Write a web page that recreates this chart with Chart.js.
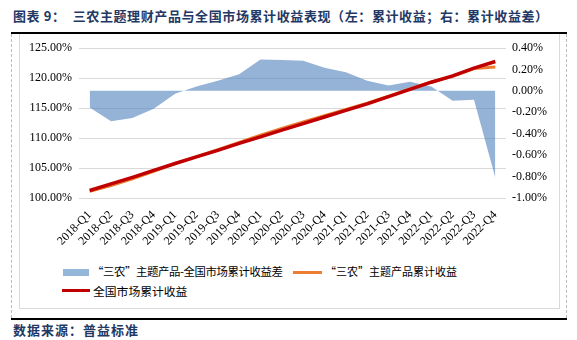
<!DOCTYPE html>
<html>
<head>
<meta charset="utf-8">
<script src="https://cdn.jsdelivr.net/npm/chart.js@4.4.1/dist/chart.umd.min.js"></script>
<style>
  body { margin: 0; width: 577px; height: 340px; background: #fff; position: relative; overflow: hidden; font-family: "Noto Sans CJK SC", sans-serif; }
  .title { position: absolute; left: 13px; top: 6px; font-size: 13px; font-weight: bold; color: #1f3864; white-space: nowrap; letter-spacing: 0.6px; }
  .rule { position: absolute; left: 11px; width: 556px; height: 2px; background: #000; }
  .dash { position: absolute; top: 34px; height: 284px; border-left: 1px dashed #bbb; }
  .box { position: absolute; left: 19px; top: 34px; width: 539px; height: 274px; border: 1px solid #d9d9d9; border-top: none; }
  .source { position: absolute; left: 13px; top: 320px; font-size: 13px; font-weight: bold; color: #1f3864; letter-spacing: 1px; }
  canvas { position: absolute; left: 0; top: 0; }
  .legend { position: absolute; font-size: 11.8px; color: #000; white-space: nowrap; }
  .sw { position: absolute; }
</style>
</head>
<body>
<div class="title">图表 9：&nbsp;&nbsp;三农主题理财产品与全国市场累计收益表现（左：累计收益；右：累计收益差）</div>
<div class="rule" style="top:32px"></div>
<div class="dash" style="left:11px"></div>
<div class="dash" style="left:566px"></div>
<div class="box"></div>
<canvas id="chart" width="577" height="262"></canvas>

<div class="sw" style="left:63px;top:269px;width:26px;height:7px;background:#95b7d9"></div>
<div class="legend" style="left:92px;top:263px;font-size:11.4px;letter-spacing:-0.4px">“三农”主题产品-全国市场累计收益差</div>
<div class="sw" style="left:293px;top:271px;width:29px;height:3px;background:#ed7d31"></div>
<div class="legend" style="left:325px;top:263px;font-size:11px">“三农”主题产品累计收益</div>
<div class="sw" style="left:62px;top:289px;width:28px;height:3px;background:#c00000"></div>
<div class="legend" style="left:93px;top:282px">全国市场累计收益</div>

<div class="rule" style="top:318px"></div>
<div class="source">数据来源：普益标准</div>

<script>
const quarters = ['2018-Q1', '2018-Q2', '2018-Q3', '2018-Q4', '2019-Q1', '2019-Q2', '2019-Q3', '2019-Q4',
  '2020-Q1', '2020-Q2', '2020-Q3', '2020-Q4', '2021-Q1', '2021-Q2', '2021-Q3', '2021-Q4',
  '2022-Q1', '2022-Q2', '2022-Q3', '2022-Q4'];

// 全国市场累计收益 (%)
const marketReturn = [101.25, 102.35, 103.45, 104.6, 105.75, 106.85, 107.95, 109.1,
  110.2, 111.3, 112.4, 113.5, 114.6, 115.7, 116.9, 118.1,
  119.3, 120.35, 121.65, 122.75];

// "三农"主题产品累计收益 (%)
const sannongReturn = [101.1, 102.07, 103.2, 104.43, 105.72, 106.89, 108.05, 109.26,
  110.49, 111.59, 112.68, 113.72, 114.77, 115.8, 116.95, 118.19,
  119.34, 120.26, 121.57, 121.85];

// 累计收益差 (%)
const returnDiff = [-0.155, -0.284, -0.253, -0.167, -0.028, 0.04, 0.095, 0.155,
  0.293, 0.287, 0.28, 0.216, 0.173, 0.095, 0.05, 0.086,
  0.04, -0.093, -0.083, -0.81];

const leftTicks = { min: 100, max: 125, step: 5 };
const rightTicks = { min: -1.0, max: 0.4, step: 0.2 };

const pct = (v) => (Math.abs(v) < 1e-9 ? 0 : v).toFixed(2) + '%';
const tickFont = { family: '"Liberation Serif", "Times New Roman", serif', size: 12 };

new Chart(document.getElementById('chart'), {
  type: 'line',
  data: {
    labels: quarters,
    datasets: [
      {
        label: '全国市场累计收益',
        data: marketReturn,
        yAxisID: 'y',
        borderColor: '#c00000',
        borderWidth: 3.5,
        pointRadius: 0,
        tension: 0,
        order: 0
      },
      {
        label: '“三农”主题产品累计收益',
        data: sannongReturn,
        yAxisID: 'y',
        borderColor: '#ed7d31',
        borderWidth: 3,
        pointRadius: 0,
        tension: 0,
        order: 1
      },
      {
        label: '“三农”主题产品-全国市场累计收益差',
        data: returnDiff,
        yAxisID: 'y1',
        borderWidth: 0,
        backgroundColor: 'rgba(79,129,189,0.6)',
        fill: 'origin',
        pointRadius: 0,
        tension: 0,
        order: 2
      }
    ]
  },
  options: {
    responsive: false,
    animation: false,
    devicePixelRatio: 1,
    layout: { padding: { top: 48, left: 20, right: 10, bottom: 0 } },
    plugins: { legend: { display: false }, tooltip: { enabled: false } },
    scales: {
      x: {
        offset: true,
        grid: { display: false },
        border: { display: false },
        ticks: { minRotation: 45, maxRotation: 45, autoSkip: false, color: '#000', font: tickFont, padding: 2 },
        afterFit: (s) => { s.height = 64; }
      },
      y: {
        position: 'left',
        min: leftTicks.min,
        max: leftTicks.max,
        grid: { color: '#d9d9d9', drawTicks: false },
        border: { display: false },
        ticks: { stepSize: leftTicks.step, callback: pct, color: '#000', font: tickFont, padding: 7 },
        afterFit: (s) => { s.width = 59; }
      },
      y1: {
        position: 'right',
        min: rightTicks.min,
        max: rightTicks.max,
        grid: { display: false, drawTicks: false },
        border: { display: false },
        ticks: { stepSize: rightTicks.step, callback: pct, color: '#000', font: tickFont, padding: 6 },
        afterFit: (s) => { s.width = 61; }
      }
    }
  }
});
</script>
</body>
</html>
